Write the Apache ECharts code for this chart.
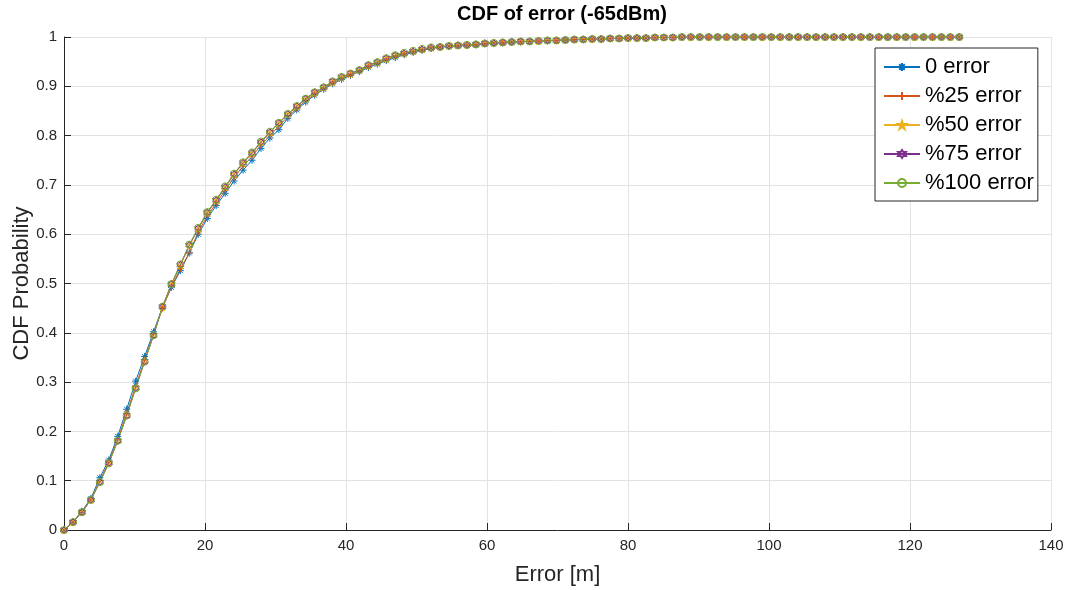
<!DOCTYPE html>
<html>
<head>
<meta charset="utf-8">
<script src="https://cdn.jsdelivr.net/npm/echarts@6/dist/echarts.min.js"></script>
<style>html,body{margin:0;padding:0;background:#fff;}#c{width:1068px;height:590px;}</style>
</head>
<body>
<div id="c"></div>
<script>
// ---- data ----
const xValues = [0,1.27,2.54,3.81,5.08,6.35,7.62,8.89,10.16,11.43,12.7,13.97,15.24,16.51,17.78,19.05,20.32,21.59,22.86,24.13,25.4,26.67,27.94,29.21,30.48,31.75,33.02,34.29,35.56,36.83,38.1,39.37,40.64,41.91,43.18,44.45,45.72,46.99,48.26,49.53,50.8,52.07,53.34,54.61,55.88,57.15,58.42,59.69,60.96,62.23,63.5,64.77,66.04,67.31,68.58,69.85,71.12,72.39,73.66,74.93,76.2,77.47,78.74,80.01,81.28,82.55,83.82,85.09,86.36,87.63,88.9,90.17,91.44,92.71,93.98,95.25,96.52,97.79,99.06,100.33,101.6,102.87,104.14,105.41,106.68,107.95,109.22,110.49,111.76,113.03,114.3,115.57,116.84,118.11,119.38,120.65,121.92,123.19,124.46,125.73,127];
const err0 = [0,0.017,0.038,0.064,0.106,0.142,0.190,0.245,0.302,0.352,0.402,0.452,0.492,0.526,0.562,0.600,0.632,0.658,0.683,0.708,0.730,0.750,0.774,0.795,0.812,0.835,0.852,0.868,0.882,0.894,0.905,0.914,0.922,0.930,0.938,0.945,0.952,0.958,0.964,0.969,0.973,0.977,0.979,0.981,0.982,0.983,0.984,0.986,0.987,0.988,0.989,0.990,0.991,0.992,0.992,0.993,0.994,0.994,0.995,0.996,0.996,0.997,0.997,0.998,0.998,0.998,0.999,0.999,0.999,1,1,1,1,1,1,1,1,1,1,1,1,1,1,1,1,1,1,1,1,1,1,1,1,1,1,1,1,1,1,1,1];
const err25 = [0,0.016,0.037,0.062,0.100,0.138,0.184,0.237,0.292,0.345,0.397,0.450,0.494,0.530,0.562,0.605,0.637,0.663,0.689,0.715,0.738,0.758,0.780,0.800,0.819,0.839,0.855,0.871,0.884,0.895,0.907,0.916,0.923,0.931,0.940,0.946,0.954,0.960,0.966,0.970,0.974,0.978,0.980,0.982,0.983,0.984,0.985,0.987,0.988,0.989,0.990,0.991,0.991,0.992,0.993,0.993,0.994,0.995,0.995,0.996,0.996,0.997,0.997,0.998,0.998,0.998,0.999,0.999,0.999,1,1,1,1,1,1,1,1,1,1,1,1,1,1,1,1,1,1,1,1,1,1,1,1,1,1,1,1,1,1,1,1];
const err50 = [0,0.016,0.036,0.061,0.098,0.136,0.182,0.233,0.289,0.343,0.396,0.452,0.498,0.537,0.577,0.611,0.643,0.668,0.695,0.721,0.744,0.764,0.786,0.806,0.825,0.843,0.859,0.874,0.887,0.897,0.909,0.918,0.925,0.932,0.942,0.948,0.956,0.962,0.967,0.971,0.975,0.978,0.980,0.982,0.983,0.984,0.985,0.987,0.988,0.989,0.990,0.991,0.991,0.992,0.993,0.993,0.994,0.995,0.995,0.996,0.996,0.997,0.997,0.998,0.998,0.998,0.999,0.999,0.999,1,1,1,1,1,1,1,1,1,1,1,1,1,1,1,1,1,1,1,1,1,1,1,1,1,1,1,1,1,1,1,1];
const err75 = [0,0.016,0.036,0.061,0.097,0.136,0.181,0.232,0.288,0.342,0.395,0.453,0.499,0.538,0.578,0.612,0.644,0.669,0.696,0.722,0.745,0.765,0.787,0.807,0.826,0.844,0.860,0.875,0.888,0.898,0.910,0.919,0.926,0.933,0.943,0.949,0.957,0.963,0.967,0.971,0.975,0.978,0.980,0.982,0.983,0.984,0.985,0.987,0.988,0.989,0.990,0.991,0.991,0.992,0.993,0.993,0.994,0.995,0.995,0.996,0.996,0.997,0.997,0.998,0.998,0.998,0.999,0.999,0.999,1,1,1,1,1,1,1,1,1,1,1,1,1,1,1,1,1,1,1,1,1,1,1,1,1,1,1,1,1,1,1,1];
const err100 = [0,0.016,0.036,0.061,0.097,0.135,0.181,0.232,0.287,0.341,0.395,0.453,0.499,0.539,0.579,0.613,0.645,0.670,0.697,0.723,0.746,0.766,0.788,0.808,0.826,0.844,0.860,0.875,0.888,0.898,0.910,0.919,0.926,0.933,0.943,0.949,0.957,0.963,0.968,0.972,0.976,0.979,0.980,0.982,0.983,0.984,0.985,0.987,0.988,0.989,0.990,0.991,0.991,0.992,0.993,0.993,0.994,0.995,0.995,0.996,0.996,0.997,0.997,0.998,0.998,0.998,0.999,0.999,0.999,1,1,1,1,1,1,1,1,1,1,1,1,1,1,1,1,1,1,1,1,1,1,1,1,1,1,1,1,1,1,1,1];
const seriesNames = ['0 error','%25 error','%50 error','%75 error','%100 error'];
const xTicks = [0,20,40,60,80,100,120,140];
const yTicks = [0,0.1,0.2,0.3,0.4,0.5,0.6,0.7,0.8,0.9,1];

// ---- styling ----
const FONT = 'Liberation Sans, Arial, Helvetica, sans-serif';
const colors = ['#0072BD','#D95319','#EDB120','#7E2F8E','#77AC30'];
const symbols = [
  'path://M5,0L5,10M0,5L10,5M1.5,1.5L8.5,8.5M8.5,1.5L1.5,8.5',
  'path://M5,0L5,10M0,5L10,5',
  'path://M5,0L6.2,3.8L10,3.8L6.9,6.1L8.1,10L5,7.6L1.9,10L3.1,6.1L0,3.8L3.8,3.8Z',
  'path://M5,0L6.44,2.5L9.33,2.5L7.89,5L9.33,7.5L6.44,7.5L5,10L3.56,7.5L0.67,7.5L2.11,5L0.67,2.5L3.56,2.5Z',
  'circle'
];
const ys = [err0, err25, err50, err75, err100];

const series = seriesNames.map((name, k) => ({
  name: name,
  type: 'line',
  data: xValues.map((x, i) => [x, ys[k][i]]),
  symbol: symbols[k],
  symbolSize: 7,
  showAllSymbol: true,
  animation: false,
  lineStyle: { color: colors[k], width: 1 },
  itemStyle: { color: 'rgba(255,255,255,0)', borderColor: colors[k], borderWidth: 1 },
  emphasis: { disabled: true }
}));

const chart = echarts.init(document.getElementById('c'), null, { renderer: 'canvas' });
chart.setOption({
  backgroundColor: '#ffffff',
  animation: false,
  title: {
    text: 'CDF of error (-65dBm)',
    left: 557, top: -1, textAlign: 'center',
    textStyle: { fontFamily: FONT, fontSize: 20, fontWeight: 'bold', color: '#000' }
  },
  grid: { left: 64, right: 17, top: 37, bottom: 60, containLabel: false, outerBoundsMode: 'none' },
  legend: {
    orient: 'vertical',
    left: 875, top: 48,
    backgroundColor: '#fff',
    borderColor: '#262626', borderWidth: 1, borderRadius: 0,
    padding: [8, 4, 7, 8],
    itemGap: 7,
    itemWidth: 36, itemHeight: 10,
    textStyle: { fontFamily: FONT, fontSize: 22, color: '#000', lineHeight: 22 },
    data: seriesNames
  },
  xAxis: {
    type: 'value', min: 0, max: 140, interval: 20,
    name: 'Error [m]', nameLocation: 'middle', nameGap: 34, nameMoveOverlap: false,
    nameTextStyle: { fontFamily: FONT, fontSize: 22, color: '#262626' },
    axisLine: { show: true, onZero: false, lineStyle: { color: '#262626', width: 1 } },
    axisTick: { show: true, inside: true, length: 7, lineStyle: { color: '#262626' } },
    axisLabel: { fontFamily: FONT, fontSize: 15, color: '#262626', margin: 8,
      customValues: xTicks },
    splitLine: { show: true, lineStyle: { color: '#e3e3e3', width: 1 } }
  },
  yAxis: {
    type: 'value', min: 0, max: 1, interval: 0.1,
    name: 'CDF Probability', nameLocation: 'middle', nameGap: 31, nameMoveOverlap: false,
    nameTextStyle: { fontFamily: FONT, fontSize: 22, color: '#262626' },
    axisLine: { show: true, onZero: false, lineStyle: { color: '#262626', width: 1 } },
    axisTick: { show: true, inside: true, length: 7, lineStyle: { color: '#262626' } },
    axisLabel: { fontFamily: FONT, fontSize: 15, color: '#262626', margin: 7,
      formatter: v => String(Math.round(v * 10) / 10) },
    splitLine: { show: true, lineStyle: { color: '#e3e3e3', width: 1 } }
  },
  series: series
});
</script>
</body>
</html>
